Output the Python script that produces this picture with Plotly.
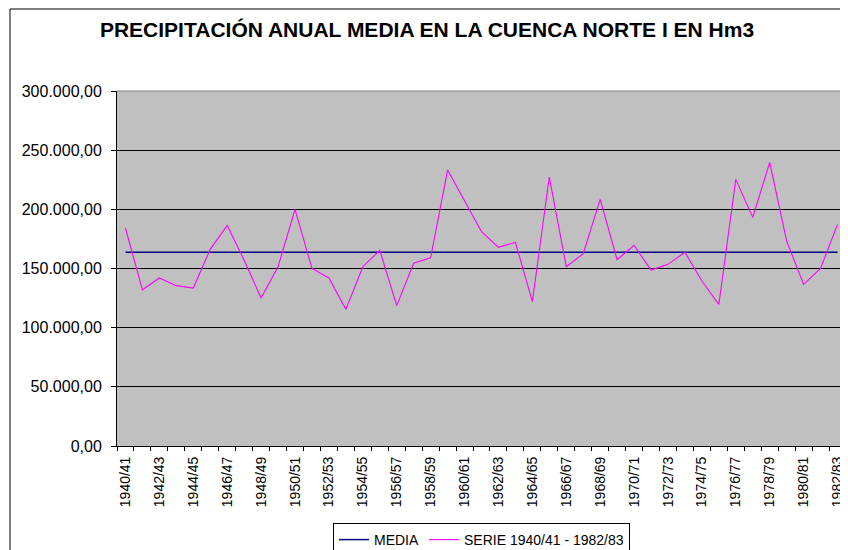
import plotly.graph_objects as go

years = [f"{y}/{str(y + 1)[-2:]}" for y in range(1940, 1983)]
serie = [184000, 132000, 142000, 135500, 133500, 166200, 186500, 157000, 125000, 151500,
         200000, 150000, 142000, 115500, 151500, 165400, 118600, 154400, 159100, 233200,
         207300, 181100, 167900, 172100, 122000, 227300, 151500, 162500, 208400, 157400,
         169600, 148700, 153500, 163700, 139400, 119700, 225300, 193200, 239700, 173200,
         136600, 150100, 187300]
media_value = 163700
media = [media_value] * len(years)
tick_text = [y if i % 2 == 0 else "" for i, y in enumerate(years)]

FONT = "Liberation Sans, Arial, sans-serif"

# page has an 8px body margin, so the figure is offset by (8, 8)
OFF = 8
W, H = 848 - OFF, 550 - OFF
L, T = 117 - OFF, 91 - OFF
R = 2
B = H - (446 - OFF)
pw, ph = W - L - R, H - T - B

fig = go.Figure()
fig.add_trace(go.Scatter(x=years, y=media, mode="lines", name="MEDIA",
                         line=dict(color="#000080", width=1.5)))
fig.add_trace(go.Scatter(x=years, y=serie, mode="lines", name="SERIE 1940/41 - 1982/83",
                         line=dict(color="#FF00FF", width=1.1)))

fig.update_layout(
    width=W, height=H, autosize=False,
    margin=dict(l=L, r=R, t=T, b=B, pad=0, autoexpand=False),
    paper_bgcolor="white", plot_bgcolor="#C0C0C0",
    separators=",.",
    font=dict(family=FONT, color="black", size=13),
    title=dict(text="<b>PRECIPITACIÓN ANUAL MEDIA EN LA CUENCA NORTE I EN Hm3</b>",
               x=(427 - OFF) / W, xanchor="center", y=1 - (30 - OFF) / H, yanchor="middle",
               yref="container", xref="container",
               font=dict(family=FONT, size=21, color="black")),
    xaxis=dict(type="category", tickmode="array", tickvals=years, ticktext=tick_text,
               tickson="boundaries", ticks="outside", ticklen=4, tickcolor="black",
               tickangle=-90, tickfont=dict(size=14, family=FONT), automargin=False,
               ticklabelstandoff=4,
               showgrid=False, showline=True, linecolor="black", linewidth=1,
               range=[-0.5, len(years) - 0.5], fixedrange=True),
    yaxis=dict(range=[0, 300000], dtick=50000, tickformat=",.2f", automargin=False,
               ticks="outside", ticklen=5, tickcolor="black", ticklabelstandoff=6,
               tickfont=dict(size=16, family=FONT),
               showgrid=True, gridcolor="black", gridwidth=1,
               showline=True, linecolor="black", linewidth=1, zeroline=False),
    legend=dict(orientation="h", xref="container", yref="container",
                x=(333 - OFF) / W, xanchor="left", y=1 - (523 - OFF) / H, yanchor="top",
                bgcolor="white", bordercolor="black", borderwidth=1,
                font=dict(family=FONT, size=14), itemwidth=30),
    showlegend=True,
)

# plot-area top border (grey) and outer chart border
fig.add_shape(type="line", xref="paper", yref="paper", x0=0, x1=1, y0=1, y1=1,
              line=dict(color="#808080", width=1))
fig.add_shape(type="rect", xref="paper", yref="paper",
              x0=(10 - 117) / pw, x1=1.05, y0=-(B + 20) / ph, y1=1 + (91 - 9) / ph,
              line=dict(color="black", width=1), fillcolor="rgba(0,0,0,0)", layer="above")

fig.write_html("out.html")
